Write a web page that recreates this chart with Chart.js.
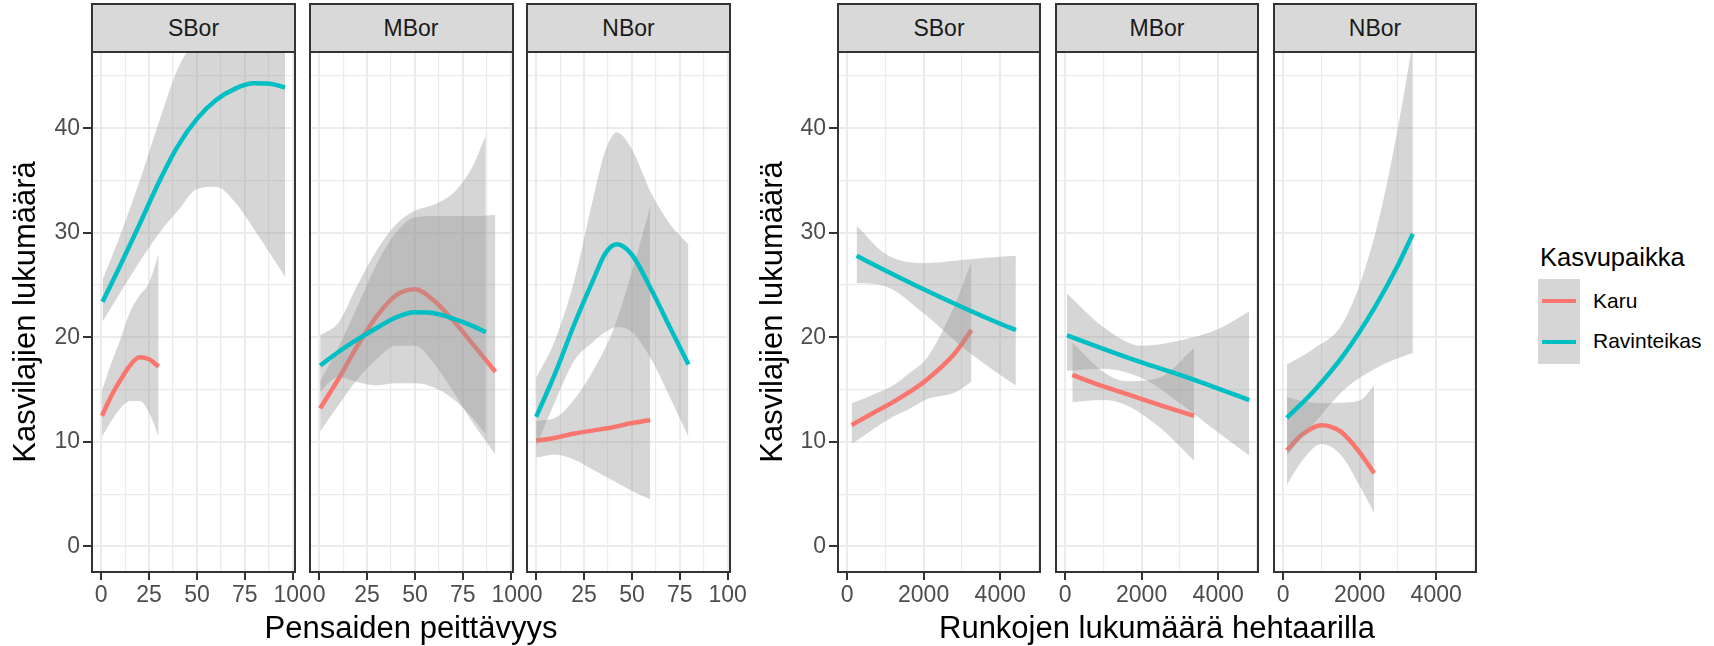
<!DOCTYPE html>
<html>
<head>
<meta charset="utf-8">
<script src="https://cdn.jsdelivr.net/npm/chart.js@4.4.1/dist/chart.umd.min.js"></script>
<style>
body{margin:0;background:#fff;font-family:"Liberation Sans",Arial,sans-serif;}
#wrap{position:relative;width:1714px;height:646px;overflow:hidden;background:#fff;}
#wrap canvas{position:absolute;top:0;}
.strip{position:absolute;top:3px;height:50px;box-sizing:border-box;border:2px solid #333;background:#d9d9d9;color:#1a1a1a;font-size:23px;line-height:46px;text-align:center;}
.xtitle{position:absolute;top:610px;width:700px;font-size:31px;line-height:36px;text-align:center;color:#000;white-space:nowrap;}
.legtitle{position:absolute;left:1540px;top:242px;font-size:25.5px;line-height:30px;color:#000;}
.keybox{position:absolute;left:1538px;top:279px;width:42px;height:85px;background:#d6d6d6;}
.keyline{position:absolute;left:1542px;width:34px;height:4px;}
.keytext{position:absolute;left:1593px;font-size:21px;line-height:24px;color:#000;}
</style>
</head>
<body>
<div id="wrap"></div>
<script>
// facets and axis ticks
const facets = ['SBor', 'MBor', 'NBor'];
const yTicks = [0, 5, 10, 15, 20, 25, 30, 35, 40, 45];
const yMajor = [0, 10, 20, 30, 40];
const pensasTicks = [0, 12.5, 25, 37.5, 50, 62.5, 75, 87.5, 100];
const pensasMajor = [0, 25, 50, 75, 100];
const runkoTicks = [0, 1000, 2000, 3000, 4000, 5000];
const runkoMajor = [0, 2000, 4000];

// Pensaiden peittävyys - SBor
const pSBorKaruX   = [0.4, 5, 10, 15, 20, 25, 30];
const pSBorKaruFit = [12.5, 14.3, 15.9, 17.3, 18.1, 17.9, 17.2];
const pSBorKaruLo  = [10.5, 11.9, 13.2, 13.9, 13.9, 12.8, 10.5];
const pSBorKaruHi  = [14.9, 17.4, 19.8, 22.4, 24.0, 25.2, 28.0];
const pSBorRavX    = [0.7, 10, 20, 30, 40, 50, 60, 70, 80, 90, 96];
const pSBorRavFit  = [23.4, 26.9, 30.8, 34.8, 38.3, 40.9, 42.7, 43.8, 44.3, 44.2, 43.9];
const pSBorRavLo   = [21.5, 24.3, 27.2, 29.9, 32.1, 34.2, 34.4, 32.9, 30.3, 27.5, 25.8];
const pSBorRavHi   = [25.5, 29.8, 34.9, 40.5, 45.7, 48.9, 53, 58.3, 64.5, 71, 74.7];
// MBor
const pMBorKaruX   = [0.5, 10, 20, 30, 40, 50, 60, 70, 80, 92];
const pMBorKaruFit = [13.2, 16.0, 19.2, 22.0, 24.0, 24.6, 23.5, 21.6, 19.4, 16.7];
const pMBorKaruLo  = [11.0, 13.5, 16.0, 17.9, 19.2, 19.2, 17.5, 14.8, 11.9, 8.8];
const pMBorKaruHi  = [15.8, 19.0, 23.0, 27.0, 30.0, 31.5, 31.6, 31.6, 31.6, 31.7];
const pMBorRavX    = [0.5, 10, 20, 30, 40, 50, 60, 70, 80, 87];
const pMBorRavFit  = [17.3, 18.6, 19.8, 20.9, 21.9, 22.4, 22.3, 21.8, 21.1, 20.5];
const pMBorRavLo   = [14.8, 16.2, 15.7, 15.4, 15.6, 15.6, 15.2, 14.1, 12.3, 10.7];
const pMBorRavHi   = [20.2, 21.4, 25.0, 28.3, 30.8, 32.1, 32.7, 33.8, 36.3, 39.3];
// NBor
const pNBorKaruX   = [0, 10, 20, 30, 40, 50, 59.5];
const pNBorKaruFit = [10.1, 10.4, 10.8, 11.1, 11.4, 11.8, 12.1];
const pNBorKaruLo  = [8.5, 8.8, 8.3, 7.3, 6.3, 5.3, 4.5];
const pNBorKaruHi  = [12.0, 12.3, 14.1, 16.9, 20.6, 26.3, 32.5];
const pNBorRavX    = [0, 10, 20, 30, 36, 42, 50, 60, 70, 79.5];
const pNBorRavFit  = [12.4, 16.6, 21.3, 25.6, 28.0, 28.9, 27.9, 24.6, 20.9, 17.4];
const pNBorRavLo   = [9.55, 13.9, 17.8, 19.6, 20.5, 21.0, 20.5, 17.9, 14.2, 10.5];
const pNBorRavHi   = [16.1, 19.8, 25.5, 33.5, 37.8, 39.6, 38.0, 33.8, 30.8, 28.9];

// Runkojen lukumäärä hehtaarilla - SBor
const rSBorKaruX   = [120, 600, 1200, 1600, 2100, 2800, 3250];
const rSBorKaruFit = [11.6, 12.6, 13.8, 14.7, 16.0, 18.4, 20.7];
const rSBorKaruLo  = [9.8, 11.0, 12.4, 13.1, 14.1, 14.7, 15.75];
const rSBorKaruHi  = [13.7, 14.4, 15.4, 16.5, 18.1, 23.0, 27.2];
const rSBorRavX    = [250, 1000, 2000, 3000, 4000, 4410];
const rSBorRavFit  = [27.8, 26.4, 24.6, 22.9, 21.3, 20.7];
const rSBorRavLo   = [25.2, 24.9, 22.3, 19.1, 16.4, 15.4];
const rSBorRavHi   = [30.7, 28.0, 27.1, 27.4, 27.7, 27.8];
// MBor
const rMBorKaruX   = [190, 1000, 1600, 2500, 3370];
const rMBorKaruFit = [16.4, 15.3, 14.6, 13.5, 12.5];
const rMBorKaruLo  = [13.8, 14.0, 13.5, 11.3, 8.2];
const rMBorKaruHi  = [19.5, 16.7, 15.8, 16.2, 19.0];
const rMBorRavX    = [50, 1000, 2000, 3000, 4000, 4810];
const rMBorRavFit  = [20.2, 18.9, 17.6, 16.4, 15.1, 14.0];
const rMBorRavLo   = [16.8, 17.0, 16.1, 13.7, 10.9, 8.7];
const rMBorRavHi   = [24.2, 21.0, 19.2, 19.7, 20.8, 22.5];
// NBor
const rNBorKaruX   = [100, 500, 1000, 1500, 2000, 2380];
const rNBorKaruFit = [9.2, 10.7, 11.6, 11.0, 9.0, 7.0];
const rNBorKaruLo  = [5.9, 8.2, 9.8, 8.8, 5.8, 3.2];
const rNBorKaruHi  = [14.3, 13.9, 13.7, 13.75, 13.95, 15.4];
const rNBorRavX    = [100, 800, 1600, 2400, 3000, 3390];
const rNBorRavFit  = [12.3, 14.85, 18.4, 22.9, 26.9, 29.9];
const rNBorRavLo   = [8.7, 11.7, 15.0, 17.0, 18.0, 18.5];
const rNBorRavHi   = [17.4, 18.9, 21.6, 29.8, 40.0, 48.3];

const karuColor = '#F8766D';
const ravColor = '#00BFC4';
const bandColor = 'rgba(153,153,153,0.4)';

Chart.defaults.font.family = '"Liberation Sans", Arial, sans-serif';

function pts(xs, ys) {
    return xs.map((x, i) => ({x: x, y: ys[i]}))
}
// ribbon (hi, lo filled between) + fitted line
function smooth(xs, fit, lo, hi, color, order) {
    var common = {pointRadius: 0, cubicInterpolationMode: 'monotone'}
    return [
        Object.assign({data: pts(xs, hi), borderWidth: 0, fill: false, order: order + 1}, common),
        Object.assign({data: pts(xs, lo), borderWidth: 0, fill: '-1', backgroundColor: bandColor, order: order + 1}, common),
        Object.assign({data: pts(xs, fit), borderColor: color, borderWidth: 4.5, fill: false, order: order}, common)
    ]
}

const frame = {
    id: 'frame',
    afterDatasetsDraw(chart) {
        var a = chart.chartArea, c = chart.ctx
        c.save()
        c.strokeStyle = '#333'
        c.lineWidth = 2
        c.strokeRect(a.left, a.top, a.right - a.left, a.bottom - a.top)
        c.restore()
    }
}

const groups = [
    {x0: 0, yW: 92, lefts: [92, 309.5, 527], w: 203, xMin: -4.8, xMax: 101.2,
     xt: pensasTicks, xm: pensasMajor, title: 'Pensaiden peittävyys',
     sets: [
        [pSBorKaruX, pSBorKaruFit, pSBorKaruLo, pSBorKaruHi, pSBorRavX, pSBorRavFit, pSBorRavLo, pSBorRavHi],
        [pMBorKaruX, pMBorKaruFit, pMBorKaruLo, pMBorKaruHi, pMBorRavX, pMBorRavFit, pMBorRavLo, pMBorRavHi],
        [pNBorKaruX, pNBorKaruFit, pNBorKaruLo, pNBorKaruHi, pNBorRavX, pNBorRavFit, pNBorRavLo, pNBorRavHi]
     ]},
    {x0: 747, yW: 91, lefts: [838, 1056, 1274], w: 202, xMin: -236, xMax: 5040,
     xt: runkoTicks, xm: runkoMajor, title: 'Runkojen lukumäärä hehtaarilla',
     sets: [
        [rSBorKaruX, rSBorKaruFit, rSBorKaruLo, rSBorKaruHi, rSBorRavX, rSBorRavFit, rSBorRavLo, rSBorRavHi],
        [rMBorKaruX, rMBorKaruFit, rMBorKaruLo, rMBorKaruHi, rMBorRavX, rMBorRavFit, rMBorRavLo, rMBorRavHi],
        [rNBorKaruX, rNBorKaruFit, rNBorKaruLo, rNBorKaruHi, rNBorRavX, rNBorRavFit, rNBorRavLo, rNBorRavHi]
     ]}
]

var wrap = document.getElementById('wrap')
groups.forEach(function (g) {
    g.lefts.forEach(function (left, i) {
        var first = i == 0
        var boxLeft = first ? g.x0 : left - 10
        var padL = first ? 0 : 10
        var padR = 30
        var cw = (left - boxLeft) + g.w + padR
        var cv = document.createElement('canvas')
        cv.width = cw
        cv.height = 646
        cv.style.left = boxLeft + 'px'
        wrap.appendChild(cv)

        var s = g.sets[i]
        var datasets = smooth(s[0], s[1], s[2], s[3], karuColor, 3)
            .concat(smooth(s[4], s[5], s[6], s[7], ravColor, 1))

        new Chart(cv.getContext('2d'), {
            type: 'line',
            data: {datasets: datasets},
            plugins: [frame],
            options: {
                responsive: false,
                animation: false,
                events: [],
                layout: {padding: {left: padL, right: padR, top: 52, bottom: 0}},
                plugins: {legend: {display: false}, tooltip: {enabled: false}},
                scales: {
                    x: {
                        type: 'linear', min: g.xMin, max: g.xMax,
                        afterBuildTicks: function (ax) { ax.ticks = g.xt.map(v => ({value: v})) },
                        afterFit: function (ax) { ax.height = 74; ax.paddingLeft = 0; ax.paddingRight = 0 },
                        ticks: {
                            autoSkip: false, maxRotation: 0, minRotation: 0, padding: 2,
                            color: '#4d4d4d', font: {size: 23},
                            callback: (v) => g.xm.includes(v) ? String(v) : ''
                        },
                        grid: {
                            color: '#ebebeb',
                            lineWidth: (c) => c.tick && g.xm.includes(c.tick.value) ? 2 : 1.2,
                            tickLength: 8, tickWidth: 2,
                            tickColor: (c) => c.tick && g.xm.includes(c.tick.value) ? '#333' : 'rgba(0,0,0,0)'
                        },
                        border: {display: false}
                    },
                    y: {
                        type: 'linear', min: -2.45, max: 47.3,
                        afterBuildTicks: function (ax) { ax.ticks = yTicks.map(v => ({value: v})) },
                        afterFit: function (ax) { ax.width = first ? g.yW : 0; ax.paddingTop = 0; ax.paddingBottom = 0 },
                        ticks: {
                            display: first, padding: 3, color: '#4d4d4d', font: {size: 23},
                            callback: (v) => yMajor.includes(v) ? String(v) : ''
                        },
                        grid: {
                            color: '#ebebeb',
                            lineWidth: (c) => c.tick && yMajor.includes(c.tick.value) ? 2 : 1.2,
                            drawTicks: first, tickLength: 9, tickWidth: 2,
                            tickColor: (c) => c.tick && yMajor.includes(c.tick.value) ? '#333' : 'rgba(0,0,0,0)'
                        },
                        border: {display: false},
                        title: {
                            display: first, text: 'Kasvilajien lukumäärä', color: '#000',
                            font: {size: 31}, padding: {top: 7.5, bottom: 0}
                        }
                    }
                }
            }
        })

        var st = document.createElement('div')
        st.className = 'strip'
        st.style.left = (left - 1) + 'px'
        st.style.width = (g.w + 2) + 'px'
        st.textContent = facets[i]
        wrap.appendChild(st)
    })
    var xt = document.createElement('div')
    xt.className = 'xtitle'
    xt.style.left = ((g.lefts[0] + g.lefts[2] + g.w) / 2 - 350) + 'px'
    xt.textContent = g.title
    wrap.appendChild(xt)
})

// legend
var leg = [
    '<div class="legtitle">Kasvupaikka</div>',
    '<div class="keybox"></div>',
    '<div class="keyline" style="top:299px;background:' + karuColor + '"></div>',
    '<div class="keyline" style="top:340px;background:' + ravColor + '"></div>',
    '<div class="keytext" style="top:289px">Karu</div>',
    '<div class="keytext" style="top:329px">Ravinteikas</div>'
]
wrap.insertAdjacentHTML('beforeend', leg.join(''))
</script>
</body>
</html>
